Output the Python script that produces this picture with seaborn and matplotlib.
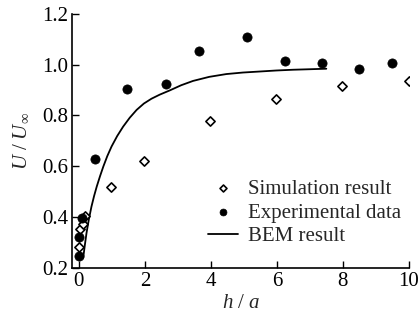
import matplotlib
matplotlib.use("Agg")
import matplotlib.pyplot as plt
import seaborn as sns
import pandas as pd

# Data
sim_x = [0.0, 0.03, 0.11, 0.18, 0.96, 1.98, 3.97, 5.97, 7.98, 10.0]
sim_y = [0.281, 0.352, 0.373, 0.406, 0.52, 0.622, 0.779, 0.865, 0.917, 0.936]

exp_x = [0.0, 0.0, 0.08, 0.48, 1.47, 2.64, 3.65, 5.11, 6.24, 7.37, 8.49, 9.5]
exp_y = [0.247, 0.323, 0.396, 0.628, 0.904, 0.924, 1.055, 1.107, 1.015, 1.007, 0.981, 1.006]

bem_x = [0.13, 0.18, 0.23, 0.3, 0.38, 0.46, 0.54, 0.64, 0.74, 0.86, 0.99, 1.16, 1.34, 1.54,
         1.75, 1.97, 2.2, 2.45, 2.76, 3.1, 3.46, 3.95, 4.47, 4.97, 5.48, 5.98, 6.49, 7.0, 7.5]
bem_y = [0.24, 0.29, 0.337, 0.39, 0.441, 0.483, 0.52, 0.561, 0.599, 0.64, 0.678, 0.719, 0.756, 0.791,
         0.822, 0.847, 0.866, 0.882, 0.899, 0.919, 0.936, 0.952, 0.963, 0.969, 0.973, 0.977, 0.980, 0.982, 0.984]

x_ticks = [0, 2, 4, 6, 8, 10]
y_ticks = [0.2, 0.4, 0.6, 0.8, 1.0, 1.2]

sns.set_theme(style="ticks")
plt.rcParams['font.family'] = ['Liberation Serif', 'DejaVu Serif']
plt.rcParams['mathtext.fontset'] = 'custom'
plt.rcParams['mathtext.rm'] = 'Liberation Serif'
plt.rcParams['mathtext.it'] = 'Liberation Serif:italic'

fig = plt.figure(figsize=(4.18, 3.22), dpi=100)
ax = fig.add_axes([0.173, 0.168, 0.805, 0.789])

sim = pd.DataFrame({"x": sim_x, "y": sim_y})
exp = pd.DataFrame({"x": exp_x, "y": exp_y})
bem = pd.DataFrame({"x": bem_x, "y": bem_y})

sns.scatterplot(data=sim, x="x", y="y", ax=ax, marker="D", s=22,
                facecolor="white", edgecolor="black", linewidth=1.2,
                label="Simulation result", zorder=3)
sns.scatterplot(data=exp, x="x", y="y", ax=ax, marker="o", s=44,
                color="black", edgecolor="black", linewidth=0.5,
                label="Experimental data", zorder=3)
sns.lineplot(data=bem, x="x", y="y", ax=ax, color="black", linewidth=1.3,
             label="BEM result", zorder=2)

ax.set_xlim(-0.2, 10)
ax.set_ylim(0.2, 1.2)
ax.set_xticks(x_ticks)
ax.set_yticks(y_ticks)
ax.set_xticklabels([str(t) for t in x_ticks])
ax.set_yticklabels([f"{t:.1f}" for t in y_ticks])
ax.tick_params(direction="in", length=5, width=1, labelsize=15, colors="black", pad=3)
for s in ["left", "bottom"]:
    ax.spines[s].set_linewidth(1.2)
    ax.spines[s].set_color("black")
sns.despine(ax=ax)

ax.set_xlabel(r"$h\ /\ a$", fontsize=15, labelpad=2)
ax.set_ylabel(r"$U\ /\ U_\infty$", fontsize=15, labelpad=8)

leg = ax.legend(loc="lower right", frameon=False, fontsize=15,
                handlelength=1.45, handletextpad=0.45, labelspacing=0.2,
                borderaxespad=0, borderpad=0, markerscale=0.75,
                bbox_to_anchor=(0.976, 0.085))

fig.savefig("out.png", dpi=100)
